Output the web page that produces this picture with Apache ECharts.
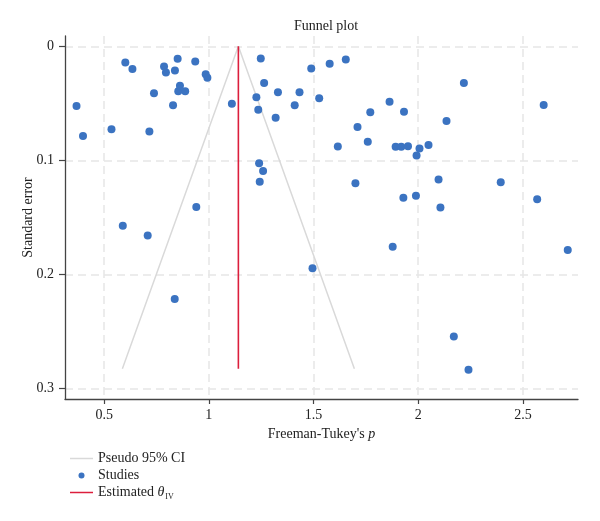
<!DOCTYPE html>
<html>
<head>
<meta charset="utf-8">
<script src="https://cdn.jsdelivr.net/npm/echarts@6/dist/echarts.min.js"></script>
<style>
  html, body { margin: 0; padding: 0; background: #fff; }
  #main { width: 600px; height: 521px; }
</style>
</head>
<body>
<div id="main"></div>
<script>
// study estimates (Freeman-Tukey p) and their standard errors
var studyX = [0.368, 0.399, 0.535, 0.601, 0.635, 0.716, 0.738, 0.786, 0.795, 0.829,
              0.838, 0.851, 0.854, 0.862, 0.887, 0.935, 0.985, 0.993, 1.110, 1.227,
              1.236, 1.248, 1.264, 1.319, 1.330, 1.410, 1.433, 1.489, 1.527, 1.577,
              1.654, 1.616, 1.710, 1.759, 1.771, 1.863, 1.892, 1.919, 1.932, 1.951,
              1.992, 2.006, 2.049, 2.135, 2.218, 2.599, 1.240, 1.259, 1.243, 1.700,
              2.097, 2.394, 1.929, 1.989, 2.106, 2.568, 0.940, 0.589, 0.708, 1.878,
              2.714, 1.495, 0.837, 2.170, 2.240];
var studyY = [0.0523, 0.0787, 0.0726, 0.0142, 0.0200, 0.0746, 0.0412, 0.0177, 0.0230, 0.0517,
              0.0213, 0.0110, 0.0394, 0.0345, 0.0394, 0.0134, 0.0245, 0.0275, 0.0503, 0.0447,
              0.0556, 0.0107, 0.0321, 0.0626, 0.0403, 0.0517, 0.0403, 0.0195, 0.0456, 0.0154,
              0.0116, 0.0878, 0.0708, 0.0837, 0.0579, 0.0485, 0.0881, 0.0881, 0.0573, 0.0875,
              0.0957, 0.0895, 0.0864, 0.0655, 0.0321, 0.0515, 0.1025, 0.1092, 0.1186, 0.1200,
              0.1168, 0.1192, 0.1327, 0.1309, 0.1412, 0.1341, 0.1409, 0.1573, 0.1658, 0.1757,
              0.1784, 0.1945, 0.2215, 0.2543, 0.2834];

// pseudo 95% CI funnel (left foot, apex, right foot)
var ciX = [0.587, 1.141, 1.695];
var ciY = [0.2825, 0, 0.2825];

// estimated theta (IV)
var estX = [1.141, 1.141];
var estY = [0, 0.2825];

var xTicks = [0.5, 1, 1.5, 2, 2.5];
var yTicks = [0, 0.1, 0.2, 0.3];

function pairs(xs, ys) {
  var out = [];
  for (var i = 0; i < xs.length; i++) out.push([xs[i], ys[i]]);
  return out;
}

var FONT = 'Liberation Serif';
var gridLine = { show: true, lineStyle: { color: '#e6e6e6', width: 1.5, type: [8, 5] } };
// thin bar used as legend icon for the line series
var lineIcon = 'path://M0,0L46,0L46,3L0,3Z';

var option = {
  animation: false,
  backgroundColor: '#fff',
  title: {
    text: 'Funnel plot',
    left: 321, top: 14, textAlign: 'center',
    textStyle: { fontFamily: FONT, fontSize: 14, fontWeight: 'normal', color: '#222' }
  },
  grid: { left: 65, top: 36, right: 22, bottom: 122 },
  legend: {
    orient: 'vertical',
    left: 65, top: 445,
    itemWidth: 23, itemHeight: 6, itemGap: 0,
    data: [
      { name: 'Pseudo 95% CI', icon: lineIcon },
      { name: 'Studies', icon: 'circle' },
      { name: 'Estimated θ', icon: lineIcon }
    ],
    textStyle: {
      fontFamily: FONT, fontSize: 14, color: '#222', lineHeight: 17,
      rich: {
        i: { fontFamily: FONT, fontSize: 14, fontStyle: 'italic', color: '#222' },
        s: { fontFamily: FONT, fontSize: 8, color: '#222', padding: [8, 0, 0, 1] }
      }
    },
    formatter: function (name) {
      if (name === 'Estimated θ') return 'Estimated {i|θ}{s|IV}';
      return name;
    }
  },
  xAxis: {
    type: 'value',
    min: 0.313, max: 2.763,
    name: "Freeman-Tukey's {i|p}",
    nameLocation: 'middle',
    nameGap: 26,
    nameTextStyle: {
      fontFamily: FONT, fontSize: 14, color: '#222',
      rich: { i: { fontFamily: FONT, fontSize: 14, fontStyle: 'italic', color: '#222' } }
    },
    axisLine: { show: true, onZero: false, lineStyle: { color: '#444', width: 1.3 } },
    axisTick: { show: true, length: 5, customValues: xTicks, lineStyle: { color: '#444', width: 1.2 } },
    axisLabel: { customValues: xTicks, margin: 9, fontFamily: FONT, fontSize: 14, color: '#222' },
    splitLine: gridLine
  },
  yAxis: {
    type: 'value',
    inverse: true,
    min: -0.009, max: 0.309,
    name: 'Standard error',
    nameLocation: 'middle',
    nameGap: 30,
    nameMoveOverlap: false,
    nameTextStyle: { fontFamily: FONT, fontSize: 14, color: '#222' },
    axisLine: { show: true, onZero: false, lineStyle: { color: '#444', width: 1.3 } },
    axisTick: { show: true, length: 6, customValues: yTicks, lineStyle: { color: '#444', width: 1.2 } },
    axisLabel: { customValues: yTicks, margin: 11, fontFamily: FONT, fontSize: 14, color: '#222' },
    splitLine: gridLine
  },
  series: [
    {
      name: 'Pseudo 95% CI',
      type: 'line',
      symbol: 'none',
      data: pairs(ciX, ciY),
      lineStyle: { color: '#d9d9d9', width: 1.5 },
      itemStyle: { color: '#d9d9d9' },
      z: 2
    },
    {
      name: 'Studies',
      type: 'scatter',
      symbol: 'circle',
      symbolSize: 8,
      data: pairs(studyX, studyY),
      itemStyle: { color: '#3b73c1', opacity: 1 },
      z: 4
    },
    {
      name: 'Estimated θ',
      type: 'line',
      symbol: 'none',
      data: pairs(estX, estY),
      lineStyle: { color: '#dc1e3c', width: 1.6 },
      itemStyle: { color: '#dc1e3c' },
      z: 3
    }
  ]
};

var chart = echarts.init(document.getElementById('main'), null, { renderer: 'canvas' });
chart.setOption(option);
</script>
</body>
</html>
